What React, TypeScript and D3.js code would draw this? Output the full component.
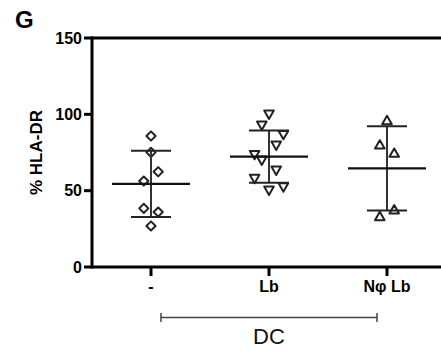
import * as React from 'react'
import * as d3 from 'd3'

// groups on the x axis
const categories = ['-', 'Lb', 'Nφ Lb']
const markers = ['diamond', 'triangleDown', 'triangleUp']

// % HLA-DR per donor
const noneValues = [85.8, 75.1, 62.4, 56.3, 38.4, 36.0, 26.9]
const lbValues = [99.7, 92.5, 86.4, 79.4, 73.3, 69.6, 63.0, 57.6, 49.9, 52.1]
const nphiLbValues = [96.3, 80.3, 74.9, 37.8, 33.4]

// horizontal scatter slot of each point (GraphPad style spreading)
const noneSlots = [0, 0, 1, -1, -1, 1, 0]
const lbSlots = [0, -1, 2, 1, -2, -1, 1, -2, 0, 2]
const nphiLbSlots = [0, -1, 1, 1, -1]

const yTicks = [0, 50, 100, 150]

const W = 441
const H = 351
const FONT = '"Liberation Sans", Arial, Helvetica, sans-serif'

const symbolPath = (kind: string) => {
  if (kind === 'diamond') {
    const r = 4.6
    return `M0,${-r}L${r},0L0,${r}L${-r},0Z`
  }
  const hw = 4.8
  const hh = 4.2
  if (kind === 'triangleDown') return `M${-hw},${-hh}L${hw},${-hh}L0,${hh}Z`
  return `M0,${-hh}L${hw},${hh}L${-hw},${hh}Z`
}

export default function App() {
  const x = d3.scalePoint<string>().domain(categories).range([151, 387])
  const y = d3.scaleLinear().domain([0, 150]).range([267, 38])
  const left = 92
  const slotW = 7.2

  const groups = [
    { name: categories[0], values: noneValues, slots: noneSlots, marker: markers[0] },
    { name: categories[1], values: lbValues, slots: lbSlots, marker: markers[1] },
    { name: categories[2], values: nphiLbValues, slots: nphiLbSlots, marker: markers[2] },
  ]

  return (
    <svg
      width={W}
      height={H}
      style={{ position: 'absolute', left: 0, top: 0, background: '#fff' }}
      fontFamily={FONT}
    >
      <text x={15} y={28} fontSize={24} fontWeight="bold" fill="#000">G</text>

      {/* frame */}
      <line x1={left} x2={W} y1={y(150)} y2={y(150)} stroke="#000" strokeWidth={3} />
      <line x1={left} x2={W} y1={y(0)} y2={y(0)} stroke="#000" strokeWidth={3} />
      <line x1={left} x2={left} y1={y(150) - 1.5} y2={y(0) + 1.5} stroke="#000" strokeWidth={3} />

      {/* y axis */}
      {yTicks.map(t => (
        <g key={t}>
          <line x1={left - 8} x2={left} y1={y(t)} y2={y(t)} stroke="#000" strokeWidth={3} />
          <text x={left - 10} y={y(t)} dy="0.36em" textAnchor="end" fontSize={16} fontWeight="bold" fill="#000">
            {t}
          </text>
        </g>
      ))}
      <text
        transform={`translate(42, ${(y(0) + y(150)) / 2}) rotate(-90)`}
        textAnchor="middle"
        fontSize={17}
        fontWeight="bold"
        fill="#000"
      >
        % HLA-DR
      </text>

      {/* x axis */}
      {categories.map(c => (
        <g key={c}>
          <line x1={x(c)} x2={x(c)} y1={y(0)} y2={y(0) + 9} stroke="#000" strokeWidth={3} />
          <text x={x(c)} y={292} textAnchor="middle" fontSize={16} fontWeight="bold" fill="#000">
            {c}
          </text>
        </g>
      ))}

      {/* DC bracket */}
      <g stroke="#444" strokeWidth={1.5}>
        <line x1={161} x2={377} y1={317.5} y2={317.5} />
        <line x1={161} x2={161} y1={313} y2={322} />
        <line x1={377} x2={377} y1={313} y2={322} />
      </g>
      <text x={269} y={344} textAnchor="middle" fontSize={22} fill="#111">DC</text>

      {/* points and mean ± SD */}
      {groups.map(g => {
        const cx = x(g.name) as number
        const mean = d3.mean(g.values) as number
        const sd = d3.deviation(g.values) as number
        return (
          <g key={g.name}>
            {g.values.map((v, i) => (
              <path
                key={i}
                d={symbolPath(g.marker)}
                transform={`translate(${cx + g.slots[i] * slotW}, ${y(v)})`}
                fill="none"
                stroke="#222"
                strokeWidth={2}
                strokeLinejoin="round"
              />
            ))}
            <line x1={cx} x2={cx} y1={y(mean + sd)} y2={y(mean - sd)} stroke="#333" strokeWidth={2} />
            <line x1={cx - 20} x2={cx + 20} y1={y(mean + sd)} y2={y(mean + sd)} stroke="#222" strokeWidth={2} />
            <line x1={cx - 20} x2={cx + 20} y1={y(mean - sd)} y2={y(mean - sd)} stroke="#222" strokeWidth={2} />
            <line x1={cx - 39} x2={cx + 39} y1={y(mean)} y2={y(mean)} stroke="#111" strokeWidth={2.2} />
          </g>
        )
      })}
    </svg>
  )
}
